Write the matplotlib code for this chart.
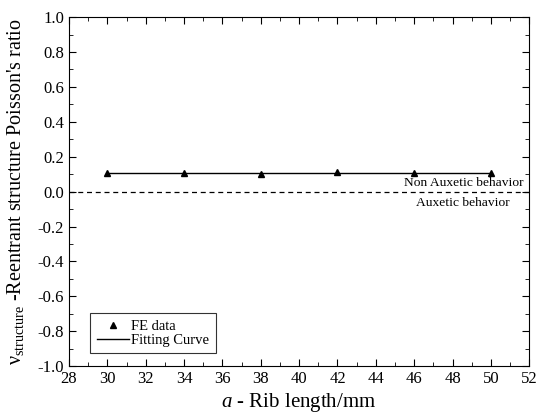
import numpy as np
import matplotlib.pyplot as plt
from matplotlib.ticker import MultipleLocator

plt.rcParams['font.family'] = ['Liberation Serif', 'DejaVu Serif']
plt.rcParams['mathtext.fontset'] = 'custom'
plt.rcParams['mathtext.rm'] = 'Liberation Serif'
plt.rcParams['mathtext.it'] = 'Liberation Serif:italic'

## FE results and fitted curve
rib_length = [30, 34, 38, 42, 46, 50]
poisson = [0.105, 0.107, 0.103, 0.110, 0.106, 0.105]
fit_x = [30, 50]
fit_y = [0.106, 0.106]

fig = plt.figure(figsize=(5.37, 4.17), dpi=100)
ax = fig.add_axes([0.1285, 0.122, 0.857, 0.837])

ax.plot(rib_length, poisson, ls='none', marker='^', ms=4.5, color='black', label='FE data')
ax.plot(fit_x, fit_y, '-', color='black', lw=1, label='Fitting Curve')
ax.axhline(0, color='black', ls=(0, (4, 3)), lw=0.9)

ax.text(51.7, 0.049, 'Non Auxetic behavior', ha='right', va='center', fontsize=9.7)
ax.text(51.0, -0.066, 'Auxetic behavior', ha='right', va='center', fontsize=9.7)

ax.set_xlim(28, 52)
ax.set_ylim(-1.0, 1.0)
ax.xaxis.set_major_locator(MultipleLocator(2))
ax.xaxis.set_minor_locator(MultipleLocator(1))
ax.yaxis.set_major_locator(MultipleLocator(0.2))
ax.yaxis.set_minor_locator(MultipleLocator(0.1))
ax.yaxis.set_major_formatter(plt.FuncFormatter(lambda v, p: '%.1f' % v))
ax.tick_params(which='both', direction='in', top=True, right=True, labelsize=12)
ax.tick_params(which='major', length=5)
ax.tick_params(which='minor', length=3)

ax.set_xlabel(r'$a$ - Rib length/mm', fontsize=15, labelpad=3)
ax.set_ylabel(r'$\mathrm{\nu}_{\mathrm{structure}}$' + " -Reentrant structure Poisson's ratio",
              fontsize=14.5)
ax.yaxis.set_label_coords(-0.093, 0.5)

leg = ax.legend(loc='lower left', bbox_to_anchor=(0.046, 0.037), borderaxespad=0,
                fontsize=10.5, frameon=True, fancybox=False, edgecolor='black',
                handlelength=2.2, handletextpad=0.15, borderpad=0.45, labelspacing=0.02)
leg.get_frame().set_linewidth(0.8)

fig.savefig('out.png', dpi=100)
